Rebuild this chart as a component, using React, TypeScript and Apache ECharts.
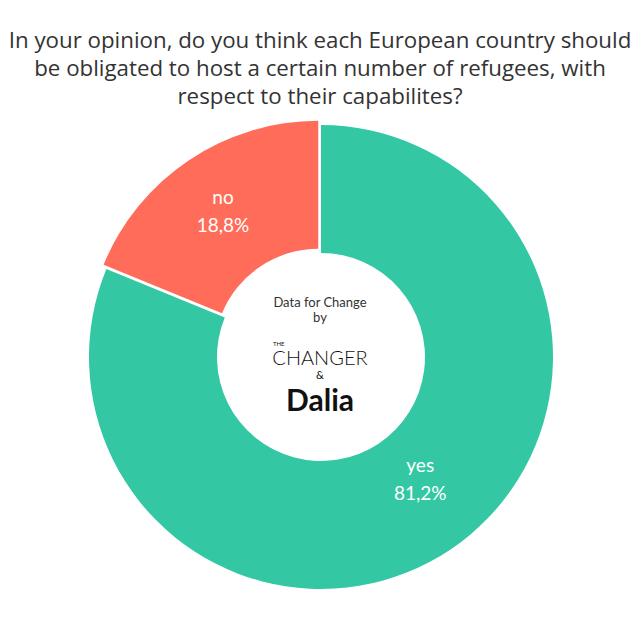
import React, { useEffect, useRef } from "react";
import * as echarts from "echarts";

const titleLines = [
  "In your opinion, do you think each European country should",
  "be obligated to host a certain number of refugees, with",
  "respect to their capabilites?",
];
const categories = ["yes", "no"];
const values = [81.2, 18.8];
const colors = ["#33C8A3", "#FF6C5A"];

export default function App() {
  const ref = useRef<HTMLDivElement>(null);
  useEffect(() => {
    if (!ref.current) return;
    const chart = echarts.init(ref.current, undefined, { renderer: "svg" });
    const font = "Lato, 'Noto Sans', sans-serif";
    const tfont = "'Open Sans', Lato, sans-serif";
    const ctext = (text: string, y: number, size: number, weight: any = "normal", fill = "#111", lh = size) => ({
      type: "text",
      x: 320,
      y,
      style: {
        text,
        fontSize: size,
        lineHeight: lh,
        fontWeight: weight,
        fill,
        fontFamily: font,
        align: "center",
        verticalAlign: "middle",
      },
    });
    chart.setOption({
      animation: false,
      backgroundColor: "#ffffff",
      title: {
        text: titleLines.join("\n"),
        left: "center",
        top: 20,
        textStyle: {
          fontFamily: tfont,
          fontSize: 22.3,
          fontWeight: "normal",
          color: "#333333",
          lineHeight: 28,
        },
      },
      graphic: [
        ctext("Data for Change", 302, 13, "normal", "#333"),
        ctext("by", 317, 13, "normal", "#333"),
        { type: "text", x: 273, y: 340, style: { text: "THE", fontSize: 6, lineHeight: 6, fill: "#111", fontFamily: font } },
        ctext("CHANGER", 357, 20, 300),
        ctext("&", 374, 11),
        ctext("Dalia", 399, 30, "bold", "#111", 24),
      ],
      series: [
        {
          type: "pie",
          center: [321, 357],
          radius: [104, 232],
          startAngle: 90,
          clockwise: true,
          selectedMode: "single",
          selectedOffset: 5,
          label: {
            show: true,
            position: "inner",
            formatter: (p: any) => `${p.name}\n${p.value.toFixed(1).replace(".", ",")}%`,
            color: "#ffffff",
            fontSize: 19,
            lineHeight: 28,
            fontFamily: font,
          },
          labelLine: { show: false },
          emphasis: { disabled: true },
          data: categories.map((c, i) => ({
            name: c,
            value: values[i],
            selected: c === "no",
            itemStyle: { color: colors[i] },
            label: c === "yes" ? { offset: [4, -21] } : { offset: [4, 0] },
          })),
        },
      ],
    });
    return () => chart.dispose();
  }, []);
  return <div ref={ref} style={{ width: 640, height: 640, margin: -8 }} />;
}
